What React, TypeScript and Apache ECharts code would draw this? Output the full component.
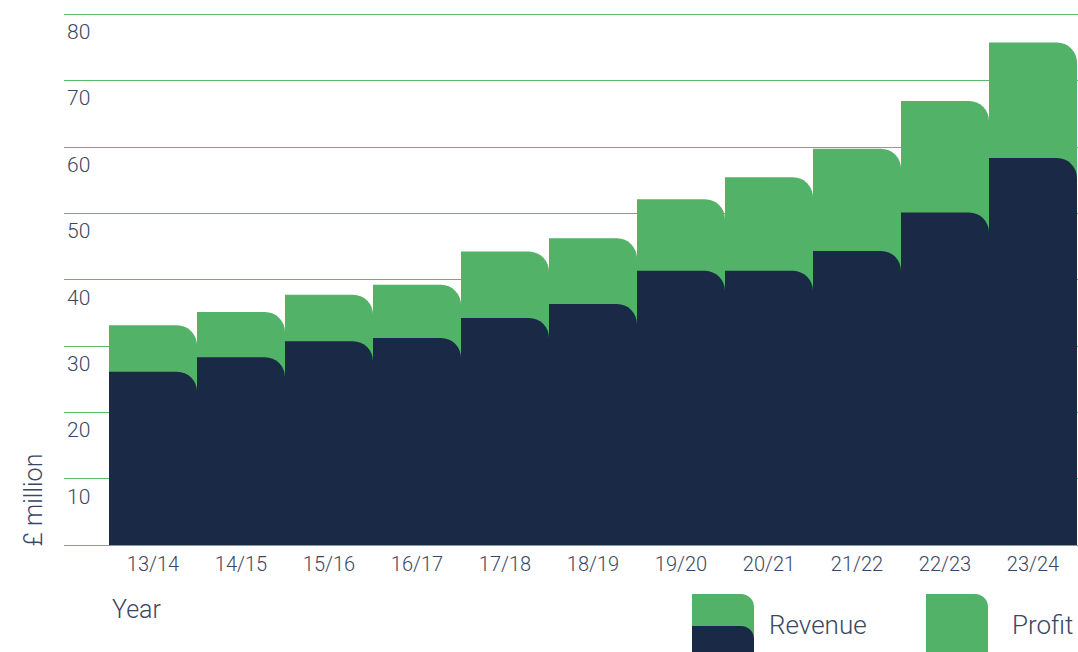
import React, { useEffect, useRef } from "react";
import * as echarts from "echarts";

const years = ["13/14", "14/15", "15/16", "16/17", "17/18", "18/19", "19/20", "20/21", "21/22", "22/23", "23/24"];
const greenValues = [33.1, 35.1, 37.7, 39.2, 44.2, 46.2, 52.1, 55.4, 59.7, 66.9, 75.7];
const navyValues = [26.1, 28.3, 30.7, 31.2, 34.2, 36.3, 41.3, 41.3, 44.3, 50.1, 58.3];
const yTicks = { min: 0, max: 80, interval: 10 };

const GREEN = "#52b267";
const NAVY = "#1a2946";
const TEXT = "#3a4763";
const GRID = "#5cbb6b";
const FONT = "Roboto";

export default function App() {
  const ref = useRef<HTMLDivElement>(null);
  useEffect(() => {
    if (!ref.current) return;
    const chart = echarts.init(ref.current, null, { renderer: "svg" });
    chart.setOption({
      animation: false,
      grid: [
        { left: 64, right: 0, top: 14, height: 531 },
        { left: 109, right: 1, top: 14, height: 531 },
      ],
      xAxis: [
        { type: "category", gridIndex: 0, show: false, data: years },
        {
          type: "category",
          gridIndex: 1,
          data: years,
          axisLine: { show: false },
          axisTick: { show: false },
          axisLabel: {
            color: TEXT,
            fontFamily: FONT,
            fontWeight: 300,
            fontSize: 20,
            lineHeight: 20,
            margin: 9,
          },
        },
      ],
      yAxis: [
        {
          type: "value",
          gridIndex: 0,
          min: yTicks.min,
          max: yTicks.max,
          interval: yTicks.interval,
          axisLine: { show: false },
          axisTick: { show: false },
          splitLine: { lineStyle: { color: GRID, width: 1 } },
          axisLabel: {
            inside: true,
            margin: 3,
            color: TEXT,
            fontFamily: FONT,
            fontWeight: 300,
            fontSize: 21,
            verticalAlign: "top",
            lineHeight: 36,
            formatter: (v: number) => (v === 0 ? "" : String(v)),
          },
        },
        {
          type: "value",
          gridIndex: 1,
          min: yTicks.min,
          max: yTicks.max,
          interval: yTicks.interval,
          show: false,
          splitLine: { show: false },
        },
      ],
      series: [
        {
          name: "Revenue",
          type: "bar",
          xAxisIndex: 1,
          yAxisIndex: 1,
          data: greenValues,
          barWidth: "100%",
          barGap: "-100%",
          itemStyle: { color: GREEN, borderRadius: [0, 20, 0, 0] },
          z: 2,
        },
        {
          name: "Profit",
          type: "bar",
          xAxisIndex: 1,
          yAxisIndex: 1,
          data: navyValues,
          barWidth: "100%",
          barGap: "-100%",
          itemStyle: { color: NAVY, borderRadius: [0, 20, 0, 0] },
          z: 3,
        },
      ],
      graphic: [
        {
          type: "text",
          left: 112,
          top: 597,
          style: { text: "Year", fill: TEXT, font: `300 25px ${FONT}` },
        },
        {
          type: "text",
          x: 33,
          y: 500,
          rotation: Math.PI / 2,
          style: {
            text: "£ million",
            fill: TEXT,
            font: `300 25px ${FONT}`,
            align: "center",
            verticalAlign: "middle",
          },
        },
        {
          type: "rect",
          shape: { x: 692, y: 594, width: 62, height: 70, r: [0, 13, 0, 0] },
          style: { fill: GREEN },
        },
        {
          type: "rect",
          shape: { x: 692, y: 626, width: 62, height: 40, r: [0, 13, 0, 0] },
          style: { fill: NAVY },
        },
        {
          type: "text",
          x: 769,
          y: 625,
          style: { text: "Revenue", fill: TEXT, font: `300 26px ${FONT}`, verticalAlign: "middle" },
        },
        {
          type: "rect",
          shape: { x: 926, y: 594, width: 62, height: 70, r: [0, 13, 0, 0] },
          style: { fill: GREEN },
        },
        {
          type: "text",
          x: 1012,
          y: 625,
          style: { text: "Profit", fill: TEXT, font: `300 26px ${FONT}`, verticalAlign: "middle" },
        },
      ],
    });
    return () => chart.dispose();
  }, []);
  return (
    <div
      ref={ref}
      style={{ position: "fixed", left: 0, top: 0, width: 1078, height: 652, background: "#fff" }}
    />
  );
}
